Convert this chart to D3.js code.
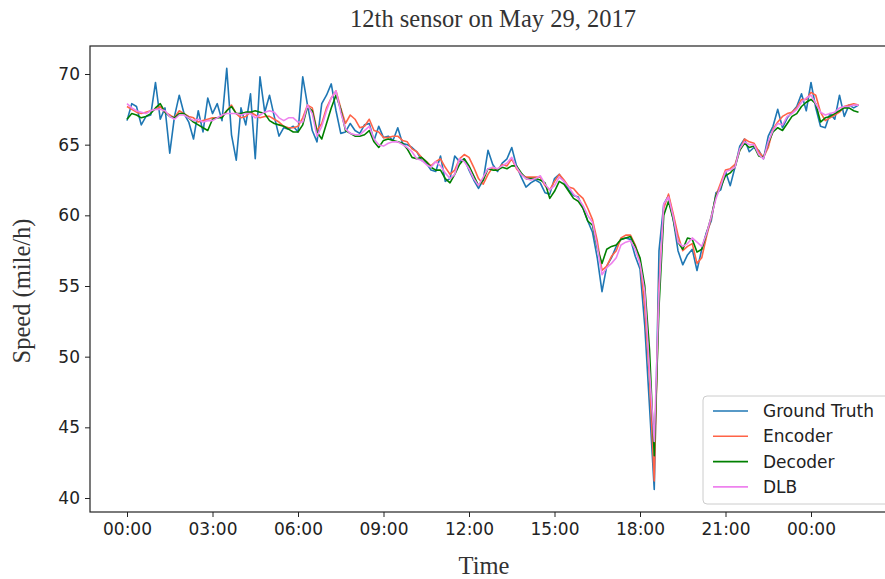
<!DOCTYPE html>
<html>
<head>
<meta charset="utf-8">
<script src="https://cdn.jsdelivr.net/npm/d3@7"></script>
<style>
  body { margin: 0; background: #fff; }
  svg { display: block; }
</style>
</head>
<body>
<div id="chart"></div>
<script>

// --------------------------------------------------------
// data: speed readings every 10 minutes, starting 00:00
var ground_truth = [
	66.7, 67.9, 67.7, 66.4, 67.0, 67.1, 69.4, 66.8, 67.6, 64.4,
	67.0, 68.5, 67.2, 66.6, 65.4, 67.4, 65.9, 68.3, 67.2, 67.9,
	66.7, 70.4, 65.7, 63.9, 67.6, 66.4, 68.6, 64.0, 69.8, 67.3,
	68.5, 67.0, 65.6, 66.2, 66.1, 66.3, 65.9, 69.8, 67.8, 66.0,
	65.2, 67.9, 68.5, 69.3, 67.4, 65.8, 65.9, 66.5, 66.0, 65.8,
	66.4, 66.5, 65.3, 66.3, 65.5, 65.6, 65.3, 66.2, 65.1, 65.0,
	64.8, 64.5, 63.9, 63.7, 63.2, 63.1, 64.2, 62.4, 62.6, 64.2,
	63.8, 64.0, 63.2, 62.5, 61.9, 62.5, 64.6, 63.6, 63.1, 63.7,
	64.0, 64.8, 63.5, 62.7, 62.0, 62.3, 62.5, 62.3, 61.6, 61.5,
	62.6, 62.9, 62.4, 61.8, 61.4, 61.3, 60.5, 59.6, 58.8, 57.0,
	54.6, 56.4, 57.0, 57.8, 58.3, 58.4, 58.3, 57.1, 56.2, 52.2,
	46.5, 40.6, 57.5, 60.8, 61.4, 59.7, 57.5, 56.5, 57.2, 57.6,
	56.1, 57.6, 58.8, 59.6, 61.6, 61.8, 63.1, 62.1, 63.4, 64.9,
	65.4, 64.5, 64.8, 64.6, 64.0, 65.6, 66.3, 67.5, 66.2, 66.9,
	67.3, 67.7, 68.6, 67.4, 69.4, 67.6, 66.3, 66.2, 67.2, 66.8,
	68.5, 67.0, 67.8, 67.6, 67.8
];

var encoder = [
	67.7, 67.5, 67.3, 67.2, 67.3, 67.4, 67.5, 67.7, 67.3, 67.1,
	66.9, 67.4, 67.2, 67.0, 66.9, 66.6, 66.7, 66.8, 66.9, 66.9,
	67.0, 67.4, 67.8, 67.2, 66.9, 67.0, 67.3, 67.1, 66.9, 67.0,
	67.0, 66.8, 66.6, 66.3, 66.2, 66.2, 66.3, 66.9, 67.8, 67.6,
	66.0, 66.5, 67.6, 68.3, 68.8, 67.6, 66.5, 67.1, 66.8, 66.2,
	66.3, 66.8, 66.0, 65.9, 65.5, 65.5, 65.6, 65.6, 65.3, 65.2,
	64.7, 64.5, 64.1, 63.8, 63.5, 63.8, 64.0, 63.4, 62.9, 63.2,
	64.0, 64.3, 64.1, 63.4, 62.6, 62.2, 62.9, 63.4, 63.2, 63.6,
	63.5, 64.0, 63.3, 62.9, 62.7, 62.7, 62.7, 62.7, 62.1, 61.8,
	62.4, 62.9, 62.5, 62.0, 61.9, 61.5, 61.2, 60.5, 59.7, 58.2,
	56.1, 56.4, 57.1, 57.5, 58.4, 58.6, 58.6, 57.9, 56.8, 53.5,
	48.5, 41.2, 55.0, 60.5, 61.5, 60.1, 58.6, 57.5, 57.8, 58.0,
	56.6, 57.0, 58.5, 59.8, 61.4, 62.3, 63.2, 63.3, 63.6, 64.6,
	65.4, 65.2, 65.1, 64.5, 64.1, 64.8, 66.1, 66.6, 67.0, 67.2,
	67.3, 67.6, 68.2, 68.2, 68.7, 68.5, 67.3, 66.7, 66.9, 67.1,
	67.3, 67.7, 67.8, 67.9, 67.8
];

var decoder = [
	66.8, 67.2, 67.1, 66.9, 67.0, 67.2, 67.6, 67.9, 67.3, 67.0,
	66.9, 67.2, 67.2, 66.9, 66.6, 66.4, 66.2, 66.0, 66.8, 66.9,
	66.9, 67.4, 67.7, 67.2, 67.2, 67.3, 67.3, 67.4, 67.3, 67.2,
	66.7, 66.5, 66.4, 66.3, 66.1, 65.9, 65.9, 66.4, 67.7, 67.4,
	65.9, 65.4, 66.5, 67.6, 68.5, 67.5, 66.0, 65.8, 65.6, 65.6,
	65.7, 66.0, 65.2, 64.8, 65.3, 65.4, 65.3, 65.2, 65.1, 64.7,
	64.1, 64.0, 64.1, 63.8, 63.4, 63.2, 63.2, 62.6, 62.3, 62.9,
	63.6, 64.0, 63.5, 62.8, 62.1, 62.5, 63.3, 63.2, 63.2, 63.4,
	63.3, 63.5, 63.5, 63.0, 62.6, 62.6, 62.6, 62.5, 62.3, 61.2,
	61.7, 62.4, 62.2, 61.7, 61.2, 61.0, 60.5, 59.6, 59.3, 57.7,
	56.6, 57.6, 57.8, 57.9, 58.3, 58.4, 58.5, 57.8, 57.0, 55.0,
	50.5, 43.0, 53.5, 60.0, 61.0, 59.7, 58.1, 57.6, 58.4, 58.3,
	57.4, 57.6, 58.7, 59.9, 61.4, 62.0, 62.8, 63.0, 63.4, 64.6,
	65.1, 64.8, 64.9, 64.2, 64.1, 65.1, 65.9, 66.2, 66.0, 66.5,
	67.0, 67.2, 67.7, 68.0, 68.2, 67.9, 66.6, 66.9, 67.0, 67.2,
	67.4, 67.6, 67.6, 67.4, 67.3
];

var dlb = [
	67.9, 67.6, 67.4, 67.3, 67.2, 67.4, 67.5, 67.5, 67.4, 67.0,
	66.8, 67.1, 67.1, 66.9, 66.7, 66.8, 66.6, 66.7, 66.7, 66.9,
	67.1, 67.2, 67.2, 67.2, 67.1, 67.2, 67.2, 66.9, 67.1, 67.3,
	67.4, 67.3, 66.9, 66.7, 66.9, 66.9, 66.6, 66.6, 67.8, 67.2,
	65.6, 66.3, 67.4, 68.3, 68.8, 67.3, 66.1, 65.8, 65.7, 65.7,
	66.0, 66.3, 65.4, 65.0, 64.9, 65.1, 65.2, 65.2, 65.0, 64.8,
	64.5, 64.0, 63.9, 63.6, 63.4, 63.8, 63.5, 63.0, 62.6, 62.9,
	64.0, 63.8, 63.3, 62.6, 62.1, 62.7, 63.3, 63.4, 63.3, 63.5,
	63.7, 64.1, 63.4, 62.9, 62.6, 62.5, 62.6, 62.8, 62.2, 61.8,
	62.1, 62.7, 62.4, 62.0, 61.5, 61.2, 60.7, 60.0, 59.5, 57.8,
	55.8, 56.3, 56.6, 57.0, 57.9, 58.1, 58.2, 57.6, 56.6, 54.6,
	49.0, 44.0, 54.5, 60.8, 61.3, 59.9, 58.1, 57.8, 58.0, 58.4,
	58.1, 57.8, 58.7, 59.9, 61.2, 62.1, 63.1, 63.2, 63.4, 64.7,
	65.2, 65.0, 65.0, 64.3, 64.0, 65.2, 66.0, 66.5, 66.4, 67.0,
	67.2, 67.5, 68.0, 68.3, 68.5, 67.9, 67.3, 67.1, 67.2, 67.3,
	67.6, 67.7, 67.7, 67.8, 67.8
];

// time of each reading, in hours since midnight (10 minute steps)
var hours          = d3.range(ground_truth.length).map((i) => i / 6);

var series_names   = [ "Ground Truth", "Encoder", "Decoder", "DLB" ];
var series_colors  = [ "#1f77b4", "#ff6347", "#008000", "#ee82ee" ];
var series_values  = [ ground_truth, encoder, decoder, dlb ];

var x_tick_values  = [ 0, 3, 6, 9, 12, 15, 18, 21, 24 ];
var x_tick_labels  = [ "00:00", "03:00", "06:00", "09:00", "12:00", "15:00", "18:00", "21:00", "00:00" ];
var y_tick_values  = [ 40, 45, 50, 55, 60, 65, 70 ];

// --------------------------------------------------------

// Chart size parameters
var chart_width    = 885;
var chart_height   = 579;
var plot           = { left: 90, top: 46, right: 902, bottom: 512 };

var svg = d3.select("#chart")
	.append("svg")
	.attr("width", chart_width)
	.attr("height", chart_height)
	.style("font-family", "'DejaVu Sans', sans-serif");

svg.append("rect")
	.attr("width", chart_width)
	.attr("height", chart_height)
	.attr("fill", "#fff");

// --------------------------------------------------------
// Scales
var x_scale = d3.scaleLinear()
	.domain([0, 24])
	.range([127, 811]);

var y_scale = d3.scaleLinear()
	.domain([40, 70])
	.range([498, 74]);

// --------------------------------------------------------
// Lines
var line = d3.line()
	.x((d, i) => x_scale(hours[i]))
	.y((d) => y_scale(d));

svg.append("g")
	.selectAll("path")
	.data(series_values)
	.enter()
	.append("path")
	.attr("d", (d) => line(d))
	.attr("fill", "none")
	.attr("stroke", (d, i) => series_colors[i])
	.attr("stroke-width", 1.6)
	.attr("stroke-linejoin", "round");

// --------------------------------------------------------
// Axes
var x_axis = d3.axisBottom(x_scale)
	.tickValues(x_tick_values)
	.tickFormat((d, i) => x_tick_labels[i])
	.tickSize(5)
	.tickPadding(6);

var y_axis = d3.axisLeft(y_scale)
	.tickValues(y_tick_values)
	.tickSize(5)
	.tickPadding(5);

var gx = svg.append("g")
	.attr("transform", "translate(0," + plot.bottom + ")")
	.call(x_axis);

var gy = svg.append("g")
	.attr("transform", "translate(" + plot.left + ",0)")
	.call(y_axis);

[gx, gy].forEach((g) => {
	g.select(".domain").remove();
	g.selectAll("line").attr("stroke", "#222").attr("stroke-width", 1);
	g.selectAll("text")
		.attr("fill", "#222")
		.style("font-size", "17px")
		.style("font-family", "'DejaVu Sans', sans-serif");
});

// frame
svg.append("rect")
	.attr("x", plot.left)
	.attr("y", plot.top)
	.attr("width", plot.right - plot.left)
	.attr("height", plot.bottom - plot.top)
	.attr("fill", "none")
	.attr("stroke", "#222")
	.attr("stroke-width", 1.2);

// --------------------------------------------------------
// Titles
svg.append("text")
	.attr("x", 493)
	.attr("y", 27)
	.attr("text-anchor", "middle")
	.style("font-family", "'Liberation Serif', serif")
	.style("font-size", "24.5px")
	.attr("fill", "#333")
	.text("12th sensor on May 29, 2017");

svg.append("text")
	.attr("x", 484)
	.attr("y", 574)
	.attr("text-anchor", "middle")
	.style("font-family", "'Liberation Serif', serif")
	.style("font-size", "24.5px")
	.attr("fill", "#333")
	.text("Time");

svg.append("text")
	.attr("transform", "translate(30,291) rotate(-90)")
	.attr("text-anchor", "middle")
	.style("font-family", "'Liberation Serif', serif")
	.style("font-size", "24.5px")
	.attr("fill", "#333")
	.text("Speed (mile/h)");

// --------------------------------------------------------
// Legend
var legend = svg.append("g");

legend.append("rect")
	.attr("x", 703)
	.attr("y", 396)
	.attr("width", 200)
	.attr("height", 108)
	.attr("rx", 4)
	.attr("fill", "#fff")
	.attr("fill-opacity", 0.85)
	.attr("stroke", "#ccc");

var items = legend.selectAll("g.item")
	.data(series_names)
	.enter()
	.append("g")
	.attr("transform", (d, i) => "translate(0," + (411 + i * 25.3) + ")");

items.append("line")
	.attr("x1", 713)
	.attr("x2", 748)
	.attr("stroke", (d, i) => series_colors[i])
	.attr("stroke-width", 1.6);

items.append("text")
	.attr("x", 763)
	.attr("dy", "0.35em")
	.style("font-size", "17px")
	.attr("fill", "#222")
	.text((d) => d);

</script>
</body>
</html>
